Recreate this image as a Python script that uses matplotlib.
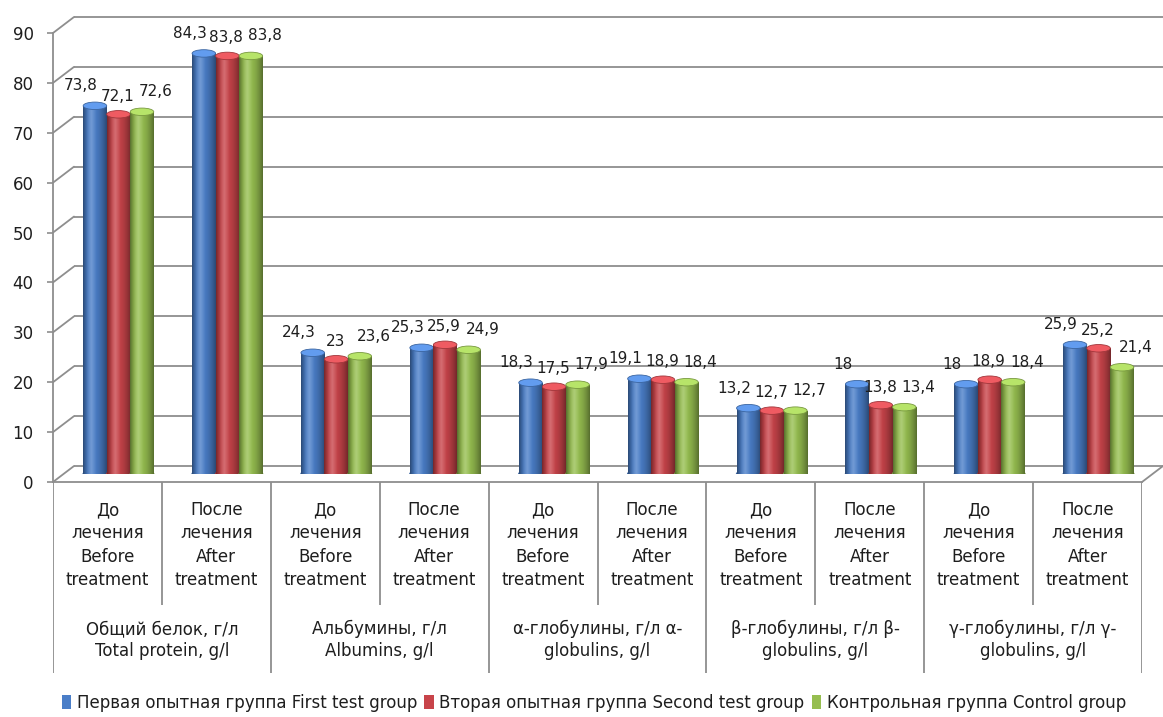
import numpy as np
import matplotlib
matplotlib.use("Agg")
from matplotlib import pyplot as plt
from matplotlib.patches import Patch, Ellipse, ConnectionPatch
from matplotlib.colors import to_rgb

# ---- data -------------------------------------------------------------
groups = ["Общий белок, г/л\nTotal protein, g/l",
          "Альбумины, г/л\nAlbumins, g/l",
          "α-глобулины, г/л α-\nglobulins, g/l",
          "β-глобулины, г/л β-\nglobulins, g/l",
          "γ-глобулины, г/л γ-\nglobulins, g/l"]
phases = ["До\nлечения\nBefore\ntreatment",
          "После\nлечения\nAfter\ntreatment"]
series_names = ["Первая опытная группа First test group",
                "Вторая опытная группа Second test group",
                "Контрольная группа Control group"]
first_group = [73.8, 84.3, 24.3, 25.3, 18.3, 19.1, 13.2, 18.0, 18.0, 25.9]
second_group = [72.1, 83.8, 23.0, 25.9, 17.5, 18.9, 12.7, 13.8, 18.9, 25.2]
control_group = [72.6, 83.8, 23.6, 24.9, 17.9, 18.4, 12.7, 13.4, 18.4, 21.4]
yticks = list(range(0, 100, 10))

series = [first_group, second_group, control_group]
colors = ["#4a7ec8", "#c8444a", "#96be50"]
grid_col = "#8e8e8e"
txt_col = "#1e1e1e"

W, H = 1163, 717
fig = plt.figure(figsize=(W / 100, H / 100), dpi=100)
plt.rcParams['font.family'] = ['DejaVu Sans']


def box(left, top, right, bottom):
    return [left / W, 1 - bottom / H, (right - left) / W, (bottom - top) / H]


n = len(first_group)
xlim = (-0.5, n - 0.5)
ylim = (0, 90)

# three planes of the fake 3D box: back wall, bars, front axis
ax_back = fig.add_axes(box(74, 17, 1163, 466))
ax_bars = fig.add_axes(box(64, 25, 1153, 474))
ax_front = fig.add_axes(box(53, 33, 1142, 482))
for a, z in ((ax_back, 0), (ax_bars, 1), (ax_front, 2)):
    a.set_xlim(*xlim)
    a.set_ylim(*ylim)
    a.set_zorder(z)
    a.patch.set_visible(False)
    a.set_xticks([])
for a in (ax_back, ax_bars):
    a.set_yticks([])
    for s in a.spines.values():
        s.set_visible(False)

# back wall gridlines
ax_back.hlines(yticks, xlim[0], xlim[1], color=grid_col, lw=1.3, clip_on=False)

# front axis
for s in ("top", "right"):
    ax_front.spines[s].set_visible(False)
for s in ("left", "bottom"):
    ax_front.spines[s].set_color(grid_col)
    ax_front.spines[s].set_linewidth(1.3)
ax_front.set_yticks(yticks)
ax_front.tick_params(axis="y", length=4, width=1.2, color=grid_col,
                     labelsize=12, labelcolor=txt_col, pad=10)

# side wall gridlines and floor edge
for y in yticks:
    con = ConnectionPatch(xyA=(xlim[0], y), coordsA=ax_front.transData,
                          xyB=(xlim[0], y), coordsB=ax_back.transData,
                          color=grid_col, lw=1.3)
    fig.add_artist(con)
con = ConnectionPatch(xyA=(xlim[1], 0), coordsA=ax_front.transData,
                      xyB=(xlim[1], 0), coordsB=ax_back.transData,
                      color=grid_col, lw=1.3)
fig.add_artist(con)


def shade_row(c, npts=64):
    rgb = np.array(to_rgb(c))
    t = np.linspace(0, 1, npts)
    peak = 0.35
    d = np.where(t < peak, (peak - t) / peak, (t - peak) / (1 - peak))
    f = 1 - 0.42 * d ** 2
    col = rgb[None, :] * f[:, None]
    hl = 0.22 * np.clip(1 - np.abs(t - peak) / 0.22, 0, 1)
    col = col + (1 - col) * hl[:, None]
    return np.clip(col, 0, 1)[None, :, :]


# cylinders
w = 0.216
ell_h = 1.5
x = np.arange(n)
label_off = [(-14, 20), (-1, 18), (14, 20)]
for j, (vals, c) in enumerate(zip(series, colors)):
    pos = x + (j - 1) * w
    bars = ax_bars.bar(pos, vals, width=w, color=c, zorder=2 + j)
    for b, v in zip(bars, vals):
        x0, bw = b.get_x(), b.get_width()
        xc = x0 + bw / 2
        base = to_rgb(c)
        bottom = Ellipse((xc, 0), bw, ell_h, color=np.array(base) * 0.8,
                         zorder=1.9 + j)
        ax_bars.add_patch(bottom)
        im = ax_bars.imshow(shade_row(c), extent=(x0, x0 + bw, 0, v),
                            aspect="auto", zorder=2.1 + j, interpolation="bilinear")
        im.set_clip_path(b)
        top = Ellipse((xc, v), bw, ell_h,
                      color=np.clip(np.array(base) * 1.12 + 0.06, 0, 1),
                      ec=np.array(base) * 0.8, lw=0.6, zorder=2.2 + j)
        ax_bars.add_patch(top)
        ax_bars.annotate(f"{v:g}".replace(".", ","), (xc, v),
                         xytext=label_off[j], textcoords="offset pixels",
                         ha="center", va="center", fontsize=11,
                         color=txt_col, zorder=10, annotation_clip=False)
ax_bars.set_xlim(*xlim)
ax_bars.set_ylim(*ylim)

# category table under the axis
ax_tab = fig.add_axes(box(53, 482, 1142, 673))
ax_tab.set_xlim(*xlim)
ax_tab.set_ylim(191, 0)
ax_tab.axis("off")
sub_lines = [i + 0.5 for i in range(0, n, 2)]
grp_lines = [i - 0.5 for i in range(0, n + 1, 2)]
ax_tab.vlines(sub_lines, 0, 123, color=grid_col, lw=1.3)
ax_tab.vlines(grp_lines, 0, 191, color=grid_col, lw=1.3)
for i in range(n):
    ax_tab.text(i, 19, phases[i % 2], ha="center", va="top", fontsize=12,
                color=txt_col, linespacing=1.38)
for g, name in enumerate(groups):
    ax_tab.text(2 * g + 0.5, 138, name, ha="center", va="top", fontsize=12,
                color=txt_col, linespacing=1.3)

# legend
handles = [Patch(facecolor=c) for c in colors]
fig.legend(handles, series_names, loc="center", ncol=3, frameon=False,
           bbox_to_anchor=(594 / W, 1 - 703 / H), fontsize=12,
           handlelength=0.55, handleheight=0.9, handletextpad=0.35,
           columnspacing=0.45, labelcolor=txt_col)

fig.savefig("out.png", dpi=100)
